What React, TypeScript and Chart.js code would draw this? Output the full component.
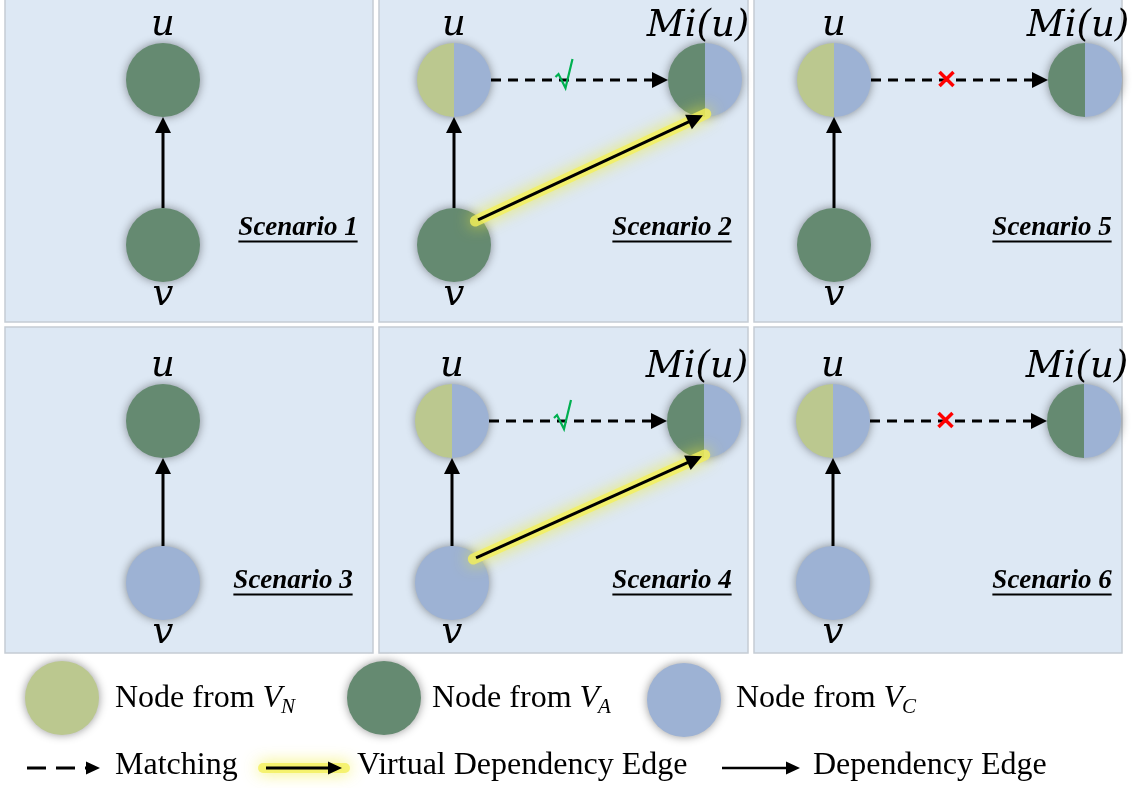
import React, { useEffect, useRef } from "react";
import { Chart, registerables } from "chart.js";

Chart.register(...registerables);

const FIG_W = 1136;
const FIG_H = 788;

// ---- scenario panels (figure units) ----
const scenarioNames = ["Scenario 1", "Scenario 2", "Scenario 5", "Scenario 3", "Scenario 4", "Scenario 6"];
const panelLeft = [5, 379, 754, 5, 379, 754];
const panelRight = [373, 748, 1122, 373, 748, 1122];
const panelTop = [-2, -2, -2, 327, 327, 327];
const panelBottom = [322, 322, 322, 653, 653, 653];
const scenarioLabelX = [298, 672, 1052, 293, 672, 1052];
const scenarioLabelY = [235, 235, 235, 588, 588, 588];

// ---- nodes per scenario ----
const uX = [163, 454, 834, 163, 452, 833];
const uY = [80, 80, 80, 421, 421, 421];
const vX = [163, 454, 834, 163, 452, 833];
const vY = [245, 245, 245, 583, 583, 583];
const miX = [NaN, 705, 1085, NaN, 704, 1084];
const miY = [NaN, 80, 80, NaN, 421, 421];
const uKind = ["A", "NC", "NC", "A", "NC", "NC"];
const vKind = ["A", "A", "A", "C", "C", "C"];
const matched = [null, true, false, null, true, false];
const hasVirtualEdge = [false, true, false, false, true, false];

// ---- legend ----
const legendNodeKind = ["N", "A", "C"];
const legendNodeX = [62, 384, 684];
const legendNodeY = [698, 698, 700];
const legendNodeTextX = [115, 432, 736];
const legendNodeTextY = 707;
const legendEdgeKind = ["match", "virtual", "dep"];
const legendEdgeX0 = [27, 266, 722];
const legendEdgeX1 = [100, 342, 800];
const legendEdgeY = 768;
const legendEdgeTextX = [115, 357, 813];
const legendEdgeText = ["Matching", "Virtual Dependency Edge", "Dependency Edge"];
const legendEdgeTextY = 774;

// ---- styles ----
const R = 37;
const COLORS: Record<string, string> = { N: "#bbc88f", A: "#658a71", C: "#9db2d4" };
const PANEL_BG = "#dde8f4";
const PANEL_BORDER = "#c5ccd4";
const GLOW = "rgba(244,240,90,0.8)";
const MATH_FONT = "'DejaVu Serif', serif";
const TEXT_FONT = "'Liberation Serif', 'Times New Roman', serif";

type Edge = { x0: number; y0: number; x1: number; y1: number; kind: string; legend: boolean };

function buildEdges(): Edge[] {
  const edges: Edge[] = [];
  for (let i = 0; i < scenarioNames.length; i++) {
    edges.push({ x0: vX[i], y0: vY[i] - R, x1: uX[i], y1: uY[i] + R, kind: "dep", legend: false });
    if (Number.isFinite(miX[i])) {
      edges.push({ x0: uX[i] + R, y0: uY[i], x1: miX[i] - R, y1: miY[i], kind: "match", legend: false });
    }
    if (hasVirtualEdge[i]) {
      edges.push({
        x0: vX[i] + 0.65 * R,
        y0: vY[i] - 0.68 * R,
        x1: miX[i] - 2,
        y1: miY[i] + 0.95 * R,
        kind: "virtual",
        legend: false,
      });
    }
  }
  for (let k = 0; k < legendEdgeKind.length; k++) {
    edges.push({ x0: legendEdgeX0[k], y0: legendEdgeY, x1: legendEdgeX1[k], y1: legendEdgeY, kind: legendEdgeKind[k], legend: true });
  }
  return edges;
}

function halfNode(left: string, right: string, r: number): HTMLCanvasElement {
  const s = Math.ceil(2 * r);
  const c = document.createElement("canvas");
  c.width = s;
  c.height = s;
  const g = c.getContext("2d")!;
  g.beginPath();
  g.moveTo(s / 2, s / 2);
  g.arc(s / 2, s / 2, r, Math.PI / 2, Math.PI * 1.5);
  g.closePath();
  g.fillStyle = left;
  g.fill();
  g.beginPath();
  g.moveTo(s / 2, s / 2);
  g.arc(s / 2, s / 2, r, -Math.PI / 2, Math.PI / 2);
  g.closePath();
  g.fillStyle = right;
  g.fill();
  return c;
}

const shadowPlugin = {
  id: "shadowPlugin",
  beforeDatasetDraw(chart: any, args: any) {
    const ds = chart.data.datasets[args.index];
    if (!ds.shadowKind) return;
    const ctx = chart.ctx;
    ctx.save();
    if (ds.shadowKind === "node") {
      ctx.shadowColor = "rgba(0,0,0,0.42)";
      ctx.shadowBlur = 10;
    } else if (ds.shadowKind === "glow") {
      ctx.shadowColor = "rgba(240,236,50,0.95)";
      ctx.shadowBlur = 16;
    }
  },
  afterDatasetDraw(chart: any, args: any) {
    const ds = chart.data.datasets[args.index];
    if (!ds.shadowKind) return;
    chart.ctx.restore();
  },
};

function makeDiagramPlugin(edges: Edge[]) {
  return {
    id: "diagramPlugin",
    beforeDatasetsDraw(chart: any) {
      const ctx = chart.ctx;
      const xs = chart.scales.x;
      const ys = chart.scales.y;
      ctx.save();
      for (let i = 0; i < scenarioNames.length; i++) {
        const l = xs.getPixelForValue(panelLeft[i]);
        const r = xs.getPixelForValue(panelRight[i]);
        const t = ys.getPixelForValue(panelTop[i]);
        const b = ys.getPixelForValue(panelBottom[i]);
        ctx.fillStyle = PANEL_BG;
        ctx.fillRect(l, t, r - l, b - t);
        ctx.strokeStyle = PANEL_BORDER;
        ctx.lineWidth = 1.5;
        ctx.strokeRect(l, t, r - l, b - t);
      }
      ctx.restore();
    },
    afterDatasetsDraw(chart: any) {
      const ctx = chart.ctx;
      const xs = chart.scales.x;
      const ys = chart.scales.y;
      const px = (v: number) => xs.getPixelForValue(v);
      const py = (v: number) => ys.getPixelForValue(v);
      ctx.save();

      // arrow heads
      for (const e of edges) {
        const x0 = px(e.x0), y0 = py(e.y0), x1 = px(e.x1), y1 = py(e.y1);
        const len = Math.hypot(x1 - x0, y1 - y0);
        const dx = (x1 - x0) / len, dy = (y1 - y0) / len;
        const hl = e.legend ? 14 : 16;
        const hw = e.legend ? 6.5 : 8;
        ctx.beginPath();
        ctx.moveTo(x1, y1);
        ctx.lineTo(x1 - dx * hl - dy * hw, y1 - dy * hl + dx * hw);
        ctx.lineTo(x1 - dx * hl + dy * hw, y1 - dy * hl - dx * hw);
        ctx.closePath();
        ctx.fillStyle = "#000";
        ctx.fill();
      }

      // match marks
      for (let i = 0; i < scenarioNames.length; i++) {
        if (matched[i] === null) continue;
        const cx = px((uX[i] + R + miX[i] - R) / 2 - 13);
        const cy = py(uY[i]);
        if (matched[i]) {
          ctx.beginPath();
          ctx.moveTo(cx - 11, cy - 3);
          ctx.lineTo(cx - 8, cy - 6);
          ctx.lineTo(cx - 1, cy + 8);
          ctx.lineTo(cx + 6, cy - 21);
          ctx.strokeStyle = "#00b050";
          ctx.lineWidth = 2.2;
          ctx.lineJoin = "miter";
          ctx.stroke();
        } else {
          ctx.beginPath();
          ctx.moveTo(cx - 7, cy - 8);
          ctx.lineTo(cx + 7, cy + 6);
          ctx.moveTo(cx + 7, cy - 8);
          ctx.lineTo(cx - 7, cy + 6);
          ctx.strokeStyle = "#ff0000";
          ctx.lineWidth = 3.5;
          ctx.lineCap = "butt";
          ctx.stroke();
        }
      }

      // node labels
      ctx.fillStyle = "#000";
      ctx.textAlign = "center";
      ctx.textBaseline = "alphabetic";
      ctx.font = `italic 37px ${MATH_FONT}`;
      for (let i = 0; i < scenarioNames.length; i++) {
        ctx.fillText("u", px(uX[i]), py(uY[i] - 45));
        ctx.fillText("v", px(vX[i]), py(vY[i] + 60));
        if (Number.isFinite(miX[i])) {
          ctx.fillText("Mi(u)", px(miX[i] - 7), py(miY[i] - 44));
        }
      }

      // scenario labels
      ctx.font = `bold italic 27px ${TEXT_FONT}`;
      for (let i = 0; i < scenarioNames.length; i++) {
        const x = px(scenarioLabelX[i]);
        const y = py(scenarioLabelY[i]);
        ctx.fillText(scenarioNames[i], x, y);
        const w = ctx.measureText(scenarioNames[i]).width;
        ctx.beginPath();
        ctx.moveTo(x - w / 2, y + 6.5);
        ctx.lineTo(x + w / 2, y + 6.5);
        ctx.strokeStyle = "#000";
        ctx.lineWidth = 1.8;
        ctx.stroke();
      }

      // legend texts
      ctx.textAlign = "left";
      for (let k = 0; k < legendNodeKind.length; k++) {
        const x = px(legendNodeTextX[k]);
        const y = py(legendNodeTextY);
        ctx.font = `32px ${TEXT_FONT}`;
        const base = "Node from ";
        ctx.fillText(base, x, y);
        const w1 = ctx.measureText(base).width;
        ctx.font = `italic 32px ${TEXT_FONT}`;
        ctx.fillText("V", x + w1, y);
        const w2 = ctx.measureText("V").width;
        ctx.font = `italic 21px ${TEXT_FONT}`;
        ctx.fillText(legendNodeKind[k], x + w1 + w2 - 1, y + 6);
      }
      ctx.font = `32px ${TEXT_FONT}`;
      for (let k = 0; k < legendEdgeText.length; k++) {
        ctx.fillText(legendEdgeText[k], px(legendEdgeTextX[k]), py(legendEdgeTextY));
      }
      ctx.restore();
    },
  };
}

export default function App() {
  const canvasRef = useRef<HTMLCanvasElement | null>(null);

  useEffect(() => {
    document.body.style.margin = "0";
    document.body.style.background = "#ffffff";
    const canvas = canvasRef.current;
    if (!canvas) return;

    const edges = buildEdges();
    const halfNC = halfNode(COLORS.N, COLORS.C, R);
    const halfAC = halfNode(COLORS.A, COLORS.C, R);

    const greenPts: { x: number; y: number }[] = [];
    const bluePts: { x: number; y: number }[] = [];
    const ncPts: { x: number; y: number }[] = [];
    const acPts: { x: number; y: number }[] = [];
    for (let i = 0; i < scenarioNames.length; i++) {
      if (uKind[i] === "A") greenPts.push({ x: uX[i], y: uY[i] });
      else ncPts.push({ x: uX[i], y: uY[i] });
      if (vKind[i] === "A") greenPts.push({ x: vX[i], y: vY[i] });
      else bluePts.push({ x: vX[i], y: vY[i] });
      if (Number.isFinite(miX[i])) acPts.push({ x: miX[i], y: miY[i] });
    }
    const legendPts = legendNodeKind.map((k, j) => ({ x: legendNodeX[j], y: legendNodeY[j] }));

    const nodeBase = {
      type: "scatter",
      showLine: false,
      pointRadius: R,
      pointHoverRadius: R,
      pointBorderWidth: 0,
      borderWidth: 0,
      order: 30,
      shadowKind: "node",
      clip: false,
    };

    const datasets: any[] = [
      { ...nodeBase, label: "green", data: greenPts, pointBackgroundColor: COLORS.A, pointStyle: "circle" },
      { ...nodeBase, label: "blue", data: bluePts, pointBackgroundColor: COLORS.C, pointStyle: "circle" },
      { ...nodeBase, label: "NC", data: ncPts, pointStyle: halfNC },
      { ...nodeBase, label: "AC", data: acPts, pointStyle: halfAC },
      {
        ...nodeBase,
        label: "legend",
        data: legendPts,
        pointBackgroundColor: legendNodeKind.map((k) => COLORS[k]),
        pointStyle: "circle",
      },
    ];

    for (const e of edges) {
      const len = Math.hypot(e.x1 - e.x0, e.y1 - e.y0);
      const dx = (e.x1 - e.x0) / len;
      const dy = (e.y1 - e.y0) / len;
      const back = e.legend ? 12 : 14;
      if (e.kind === "virtual") {
        datasets.push({
          type: "scatter",
          label: "glow",
          showLine: true,
          data: [
            { x: e.x0 - dx * 3, y: e.y0 - dy * 3 },
            { x: e.x1 + dx * 3, y: e.y1 + dy * 3 },
          ],
          borderColor: GLOW,
          borderWidth: e.legend ? 10 : 11,
          borderCapStyle: "round",
          pointRadius: 0,
          order: 20,
          shadowKind: "glow",
          clip: false,
        });
      }
      datasets.push({
        type: "scatter",
        label: e.kind,
        showLine: true,
        data: [
          { x: e.x0, y: e.y0 },
          { x: e.x1 - dx * back, y: e.y1 - dy * back },
        ],
        borderColor: "#000",
        borderWidth: e.kind === "dep" && e.legend ? 2.5 : 3,
        borderDash: e.kind === "match" ? (e.legend ? [19, 10] : [10, 7]) : [],
        borderCapStyle: "butt",
        pointRadius: 0,
        order: 10,
        clip: false,
      });
    }

    const chart = new Chart(canvas, {
      type: "scatter",
      data: { datasets },
      options: {
        animation: false,
        responsive: false,
        events: [],
        layout: { padding: 0, autoPadding: false },
        scales: {
          x: { type: "linear", min: 0, max: FIG_W, display: false },
          y: { type: "linear", min: 0, max: FIG_H, reverse: true, display: false },
        },
        plugins: {
          legend: { display: false },
          tooltip: { enabled: false },
        },
      } as any,
      plugins: [shadowPlugin, makeDiagramPlugin(edges)],
    } as any);

    return () => {
      chart.destroy();
    };
  }, []);

  return (
    <div style={{ width: FIG_W, height: FIG_H, background: "#fff" }}>
      <canvas ref={canvasRef} width={FIG_W} height={FIG_H} style={{ width: FIG_W, height: FIG_H, display: "block" }} />
    </div>
  );
}
